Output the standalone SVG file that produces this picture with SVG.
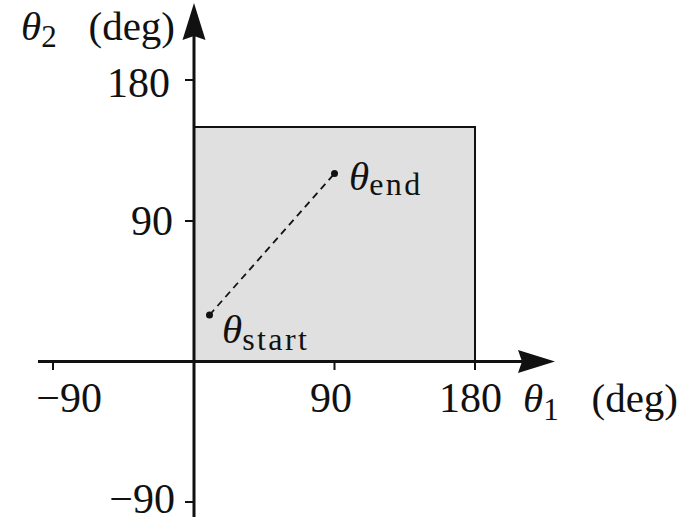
<svg xmlns="http://www.w3.org/2000/svg" width="683" height="522" viewBox="0 0 683 522">
<style>
.num{font-family:"Liberation Serif","Times New Roman",serif;font-size:42px;fill:#111}
.lab{font-family:"Liberation Serif","Times New Roman",serif;font-size:41px;fill:#111}
.it{font-style:italic}
.sub{font-size:31px}
.subw{font-size:32px;letter-spacing:2.4px}
.axis{stroke:#111;stroke-width:3;fill:none}
.tick{stroke:#111;stroke-width:2;fill:none}
</style>
<rect width="683" height="522" fill="#fff"/>
<g id="region">
<rect x="194" y="127" width="281" height="234.5" fill="#e0e0e0" stroke="#111" stroke-width="2"/>
</g>
<g id="axes">
<line class="axis" x1="38" y1="361.5" x2="522" y2="361.5"/>
<polygon points="555,361.5 518,350 522,361.5 518,373" fill="#111"/>
<line class="axis" x1="194" y1="517" x2="194" y2="34"/>
<polygon points="194,3 182.5,40 194,36 205.5,40" fill="#111"/>
<line class="tick" x1="53" y1="361" x2="53" y2="370"/>
<line class="tick" x1="334.5" y1="361" x2="334.5" y2="370"/>
<line class="tick" x1="475" y1="361" x2="475" y2="370"/>
<line class="tick" x1="185" y1="80" x2="194" y2="80"/>
<line class="tick" x1="185" y1="221" x2="194" y2="221"/>
<line class="tick" x1="185" y1="502" x2="194" y2="502"/>
</g>
<g id="tick-labels">
<text class="num" x="102" y="412" text-anchor="end">−90</text>
<text class="num" x="352" y="412" text-anchor="end">90</text>
<text class="num" x="502" y="412" text-anchor="end">180</text>
<text class="num" x="170" y="97" text-anchor="end">180</text>
<text class="num" x="173" y="235" text-anchor="end">90</text>
<text class="num" x="175" y="512.5" text-anchor="end">−90</text>
</g>
<g id="axis-labels">
<text class="lab" x="21" y="40"><tspan class="it">θ</tspan><tspan class="sub" dy="7">2</tspan></text>
<text class="lab" x="175" y="40" text-anchor="end">(deg)</text>
<text class="lab" x="523" y="412"><tspan class="it">θ</tspan><tspan class="sub" dy="8">1</tspan></text>
<text class="lab" x="678" y="412" text-anchor="end">(deg)</text>
</g>
<g id="connectors">
<line x1="209.5" y1="315" x2="334.5" y2="173.5" stroke="#111" stroke-width="1.8" stroke-dasharray="7,5"/>
</g>
<g id="start">
<circle cx="209.5" cy="315" r="3.5" fill="#111"/>
<text class="lab" x="222" y="343"><tspan class="it">θ</tspan><tspan class="subw" dy="7">start</tspan></text>
</g>
<g id="end">
<circle cx="334.5" cy="173.5" r="3.5" fill="#111"/>
<text class="lab" x="349" y="190"><tspan class="it">θ</tspan><tspan class="subw" dy="5">end</tspan></text>
</g>
</svg>
